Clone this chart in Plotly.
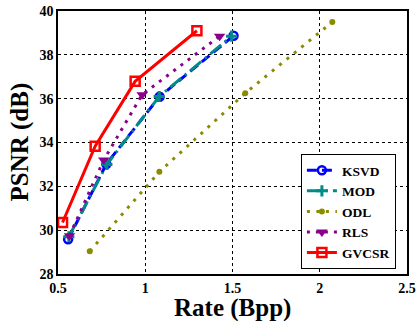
import plotly.graph_objects as go

ksvd_x = [0.558, 0.777, 1.082, 1.506]
ksvd_y = [29.58, 33.02, 36.09, 38.87]
mod_x = [0.562, 0.780, 1.080, 1.495]
mod_y = [29.70, 33.00, 36.10, 38.85]
odl_x = [0.682, 1.081, 1.573, 2.072]
odl_y = [29.04, 32.66, 36.25, 39.50]
rls_x = [0.566, 0.762, 0.982, 1.426]
rls_y = [29.75, 33.20, 36.18, 38.85]
gvcsr_x = [0.526, 0.713, 0.942, 1.296]
gvcsr_y = [30.35, 33.83, 36.79, 39.10]

x_ticks = [0.5, 1, 1.5, 2, 2.5]
x_tick_text = ["0.5", "1", "1.5", "2", "2.5"]
y_ticks = [28, 30, 32, 34, 36, 38, 40]

series = [
    ("KSVD", ksvd_x, ksvd_y, "#0000ff", "10px,5px", dict(symbol="circle-open", size=8, line=dict(width=2.5, color="#0000ff"))),
    ("MOD", mod_x, mod_y, "#008b8b", "14px,5px,2px,5px", dict(symbol="cross-thin-open", size=8, line=dict(width=3, color="#008b8b"))),
    ("ODL", odl_x, odl_y, "#8b8b00", "3px,6.5px", dict(symbol="circle", size=6, color="#8b8b00")),
    ("RLS", rls_x, rls_y, "#8b008b", "3px,6px", dict(symbol="triangle-down", size=10, color="#8b008b")),
    ("GVCSR", gvcsr_x, gvcsr_y, "#ff0000", "solid", dict(symbol="square-open", size=9, line=dict(width=2.5, color="#ff0000"))),
]

fig = go.Figure()
for name, xs, ys, col, dash, mk in series:
    fig.add_trace(go.Scatter(x=xs, y=ys, name=name, mode="lines+markers",
                             line=dict(color=col, width=3, dash=dash), marker=mk))

ff = "Times New Roman, Liberation Serif, serif"
axis_common = dict(showgrid=True, gridcolor="black", griddash="dot", gridwidth=1,
                   showline=True, linecolor="black", linewidth=1.5, mirror=True,
                   ticks="", zeroline=False, automargin=False,
                   tickfont=dict(family=ff, size=14, color="black", weight="bold"))

fig.update_layout(
    width=417, height=321,
    margin=dict(l=58, r=10, t=11, b=47),
    plot_bgcolor="white", paper_bgcolor="white",
    font=dict(family=ff, color="black"),
    xaxis=dict(range=[0.5, 2.5], tickvals=x_ticks, ticktext=x_tick_text, **axis_common),
    yaxis=dict(range=[28, 40], tickvals=y_ticks, **axis_common),
    legend=dict(x=0.696, y=0.019, xanchor="left", yanchor="bottom",
                bordercolor="black", borderwidth=1, bgcolor="white",
                font=dict(family=ff, size=13.5, weight="bold"),
                tracegroupgap=0, itemwidth=30),
    showlegend=True,
    annotations=[
        dict(text="Rate (Bpp)", xref="paper", yref="paper", x=0.5, y=-0.128,
             xanchor="center", yanchor="middle", showarrow=False,
             font=dict(family=ff, size=25, weight="bold", color="black")),
        dict(text="PSNR (dB)", xref="paper", yref="paper", x=-0.1117, y=0.5,
             xanchor="center", yanchor="middle", textangle=-90, showarrow=False,
             font=dict(family=ff, size=25, weight="bold", color="black")),
    ],
)

fig.write_html("out.html", config={"displayModeBar": False},
               post_script="document.body.style.margin='0';document.body.style.overflow='hidden';")
